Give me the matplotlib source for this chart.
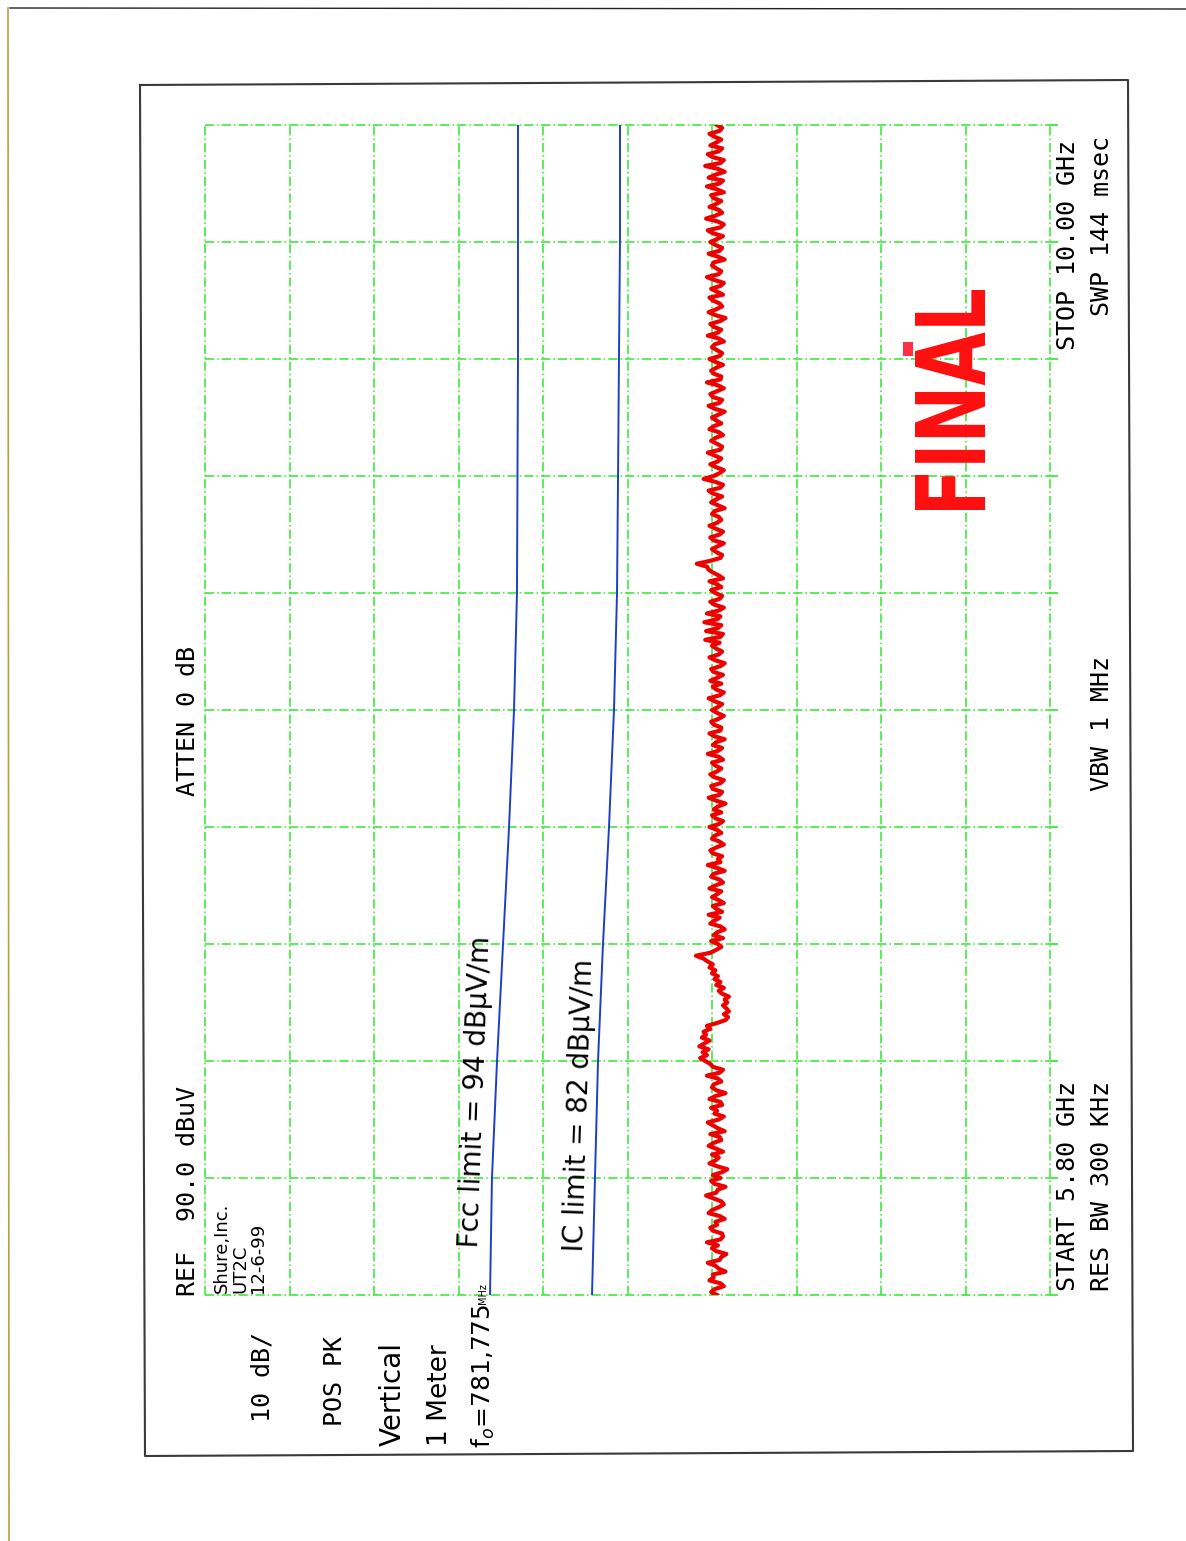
import numpy as np
import matplotlib
matplotlib.use("Agg")
import matplotlib.pyplot as plt
from matplotlib.lines import Line2D
from matplotlib.patches import PathPatch, Rectangle
from matplotlib.textpath import TextPath
from matplotlib.font_manager import FontProperties
from matplotlib.transforms import Affine2D

W, H = 1186, 1541

# sweep settings
f_start, f_stop = 5.80, 10.00
ref_level = 90.0
db_per_div = 10.0

# measured trace (dBuV), 401 sweep points from START to STOP
trace = [
    29.4, 30.1, 29.7, 28.6, 29.0, 30.3, 29.8, 29.9, 28.4, 29.2, 29.6, 30.5, 29.1, 28.9, 28.3, 29.5, 30.0, 29.3, 30.6, 29.0,
    28.7, 28.8, 29.9, 30.2, 29.4, 29.6, 28.5, 29.1, 30.4, 30.0, 29.2, 28.6, 28.9, 29.8, 30.7, 29.5, 29.3, 28.4, 29.7, 30.1,
    29.0, 29.9, 28.8, 28.2, 29.4, 30.3, 29.6, 29.2, 30.0, 28.7, 29.5, 30.4, 29.8, 28.9, 29.1, 30.2, 28.5, 29.3, 29.9, 30.5,
    29.2, 28.6, 29.7, 29.4, 30.1, 28.8, 29.0, 30.3, 29.6, 28.4, 29.5, 30.0, 29.8, 28.9, 29.3, 30.6, 29.1, 28.7, 29.9, 30.2,
    30.8, 31.4, 30.6, 31.1, 30.4, 31.5, 30.9, 30.3, 31.2, 30.7, 31.0, 30.2, 30.6, 29.4, 28.4, 28.1, 28.6, 28.0, 28.3, 28.7,
    28.2, 28.5, 28.0, 28.8, 29.2, 28.6, 29.5, 29.0, 29.7, 29.3, 30.0, 29.6, 30.3, 29.9, 30.5, 31.0, 31.9, 30.2, 29.5, 28.9,
    29.3, 30.1, 28.7, 29.8, 29.4, 28.5, 29.0, 30.2, 29.7, 29.1, 30.4, 28.8, 29.5, 29.9, 28.6, 29.2, 30.0, 29.4, 28.9, 30.3,
    29.6, 28.7, 29.1, 30.1, 29.8, 28.5, 29.4, 30.5, 29.0, 29.3, 28.8, 29.9, 30.2, 29.5, 28.6, 29.1, 30.0, 29.7, 28.9, 29.4,
    30.3, 29.2, 28.7, 29.6, 30.0, 28.9, 29.8, 29.3, 28.4, 29.5, 30.4, 29.1, 28.8, 29.9, 30.1, 29.0, 28.6, 29.7, 30.2, 29.4,
    28.9, 29.6, 30.0, 28.7, 29.2, 30.5, 29.3, 28.8, 29.9, 29.5, 28.5, 29.7, 30.3, 29.0, 28.9, 29.8, 30.1, 29.2, 28.6, 29.4,
    30.0, 29.3, 28.8, 29.7, 30.4, 29.1, 28.6, 29.5, 29.9, 28.9, 30.2, 29.4, 28.7, 29.8, 30.1, 29.0, 28.5, 29.6, 30.3, 29.2,
    28.8, 29.5, 30.0, 29.1, 30.8, 29.0, 28.7, 30.7, 29.3, 28.9, 30.9, 29.4, 29.0, 30.6, 29.2, 28.6, 29.7, 30.2, 29.1, 28.8,
    29.6, 30.1, 28.9, 29.4, 30.3, 28.7, 29.2, 29.9, 30.4, 30.6, 31.8, 30.2, 29.0, 28.8, 29.5, 30.0, 29.3, 28.6, 29.8, 30.2,
    29.1, 28.7, 29.6, 30.3, 29.4, 28.9, 29.2, 30.0, 29.7, 28.5, 29.3, 30.1, 29.5, 28.8, 29.9, 30.4, 29.0, 28.7, 29.6, 31.0,
    29.8, 29.1, 28.6, 29.5, 30.2, 29.3, 28.9, 29.7, 30.5, 29.0, 28.8, 29.4, 30.1, 29.6, 28.7, 29.2, 30.3, 29.8, 28.9, 29.5,
    30.0, 29.2, 28.5, 29.7, 30.4, 29.1, 28.8, 29.9, 30.2, 29.4, 28.6, 29.3, 30.6, 29.0, 28.9, 29.8, 30.1, 29.5, 28.7, 29.6,
    30.3, 29.1, 28.8, 29.4, 30.0, 29.7, 28.6, 29.2, 30.5, 29.3, 28.9, 29.8, 30.2, 29.0, 28.4, 29.6, 30.4, 29.5, 28.8, 29.1,
    29.9, 30.3, 28.7, 29.4, 30.1, 29.0, 28.6, 29.7, 30.6, 29.2, 28.9, 29.5, 30.0, 29.8, 28.5, 29.3, 30.4, 29.1, 28.8, 29.6,
    30.2, 29.4, 28.7, 29.9, 30.5, 29.0, 28.6, 29.3, 30.7, 29.6, 28.8, 29.2, 30.3, 29.5, 28.9, 29.8, 30.1, 28.6, 29.4, 30.6,
    29.1, 28.7, 30.4, 29.6, 28.5, 29.3, 30.8, 29.0, 28.6, 29.9, 30.5, 29.2, 28.8, 30.2, 29.5, 28.9, 29.7, 30.3, 29.1, 28.8,
    29.4,
]

# limit lines (dBuV) read at each frequency gridline
limit_freqs = [5.80, 6.22, 6.64, 7.06, 7.48, 7.90, 8.32, 8.74, 9.16, 9.58, 10.00]
fcc_limit = [56.27, 56.04, 55.44, 54.73, 54.02, 53.43, 53.08, 53.02, 52.96, 52.96, 52.96]
ic_limit = [44.20, 43.85, 43.49, 42.90, 42.19, 41.60, 41.24, 41.12, 41.01, 40.89, 40.89]

freqs = np.linspace(f_start, f_stop, len(trace))

fig = plt.figure(figsize=(W / 100, H / 100), dpi=100)
fig.patch.set_facecolor("white")


def fx(x):
    return x / W


def fy(y):
    return 1 - y / H


# grid area: amplitude runs left->right (REF at left), frequency bottom->top
ax = fig.add_axes([fx(205), fy(1295), (1050 - 205) / W, (1295 - 125) / H])
ax.set_xlim(ref_level, ref_level - 10 * db_per_div)
ax.set_ylim(f_start, f_stop)
ax.set_xticks(np.arange(ref_level, ref_level - 10 * db_per_div - 1, -db_per_div))
ax.set_yticks(np.linspace(f_start, f_stop, 11))
ax.grid(True, color="#2ee82e", linestyle=(0, (6, 2, 1, 2)), linewidth=1.1)
for gl in ax.get_xgridlines() + ax.get_ygridlines():
    gl.set_clip_on(False)
for sp in ax.spines.values():
    sp.set_visible(False)
ax.tick_params(axis="x", bottom=False, labelbottom=False)
ax.tick_params(axis="y", left=False, right=True, labelleft=False, labelright=False,
               direction="out", length=6, color="#2ee82e", width=1.2)
ax.set_facecolor("none")

ax.plot(fcc_limit, limit_freqs, color="#1f3fc8", lw=1.4)
ax.plot(ic_limit, limit_freqs, color="#1f3fc8", lw=1.4)
ax.plot(trace, freqs, color="#ee0000", lw=3.0, solid_joinstyle="round")

# outer frame of the plot and page edges
frame_x = [140, 1128, 1133, 145, 140]
frame_y = [85, 80, 1451, 1456, 85]
fig.add_artist(Line2D([fx(v) for v in frame_x], [fy(v) for v in frame_y],
                      color="#3a3a3a", lw=1.5, transform=fig.transFigure))
fig.add_artist(Line2D([fx(10), fx(1186)], [fy(8), fy(9)], color="#222222", lw=1.0,
                      transform=fig.transFigure))
fig.add_artist(Line2D([fx(8), fx(9)], [fy(8), fy(1541)], color="#b8a040", lw=1.2,
                      transform=fig.transFigure))

mono = dict(family="DejaVu Sans Mono", fontsize=18, rotation=90, color="black",
            ha="center", va="bottom")


def put(x, y, s, **kw):
    fig.text(fx(x), fy(y), s, **kw)


put(188, 1296, "REF  90.0 dBuV", **mono)
put(188, 796, "ATTEN 0 dB", **mono)
put(262, 1422, "10 dB/", **mono)
put(335, 1426, "POS PK", **mono)
put(1068, 1291, "START 5.80 GHz", **mono)
put(1102, 1291, "RES BW 300 KHz", **mono)
put(1102, 791, "VBW 1 MHz", **mono)
put(1068, 350, "STOP 10.00 GHz", **mono)
put(1102, 316, "SWP 144 msec", **mono)

hand = dict(family="DejaVu Sans", rotation=90, color="black", ha="center",
            va="bottom")
put(240, 1293, "Shure,Inc.\nUT2C\n12-6-99", fontsize=13, ma="left", linespacing=1.0, **hand)
put(393, 1446, "Vertical", fontsize=20, **hand)
put(440, 1446, "1 Meter", fontsize=19, **hand)
put(483, 1448, "f$_o$=781,775", fontsize=18, **hand)
put(483, 1304, "MHz", fontsize=7, **hand)

angled = dict(family="DejaVu Sans", color="black", ha="center", va="center",
              rotation_mode="anchor")
put(476, 1092, "Fcc limit = 94 dBμV/m", fontsize=20, rotation=87.9, **angled)
put(580, 1105, "IC limit = 82 dBμV/m", fontsize=20, rotation=88.2, **angled)

# red "FINAL" stamp
tp = TextPath((0, 0), "FINAL", size=100,
              prop=FontProperties(family="DejaVu Sans", weight="bold"))
bb = tp.get_extents()
stamp = (Affine2D().translate(-bb.x0, -bb.y0)
         .scale(220 / bb.width, 70 / bb.height)
         .rotate_deg(90)
         .translate(985, H - 510)
         .scale(1 / W, 1 / H))
fig.add_artist(PathPatch(tp, transform=stamp + fig.transFigure,
                         facecolor="#ff1010", edgecolor="none"))
fig.add_artist(Rectangle((fx(903), fy(356)), 10 / W, 14 / H, facecolor="#ff3040",
                         edgecolor="none", transform=fig.transFigure))

fig.savefig("out.png", dpi=100, facecolor="white")
